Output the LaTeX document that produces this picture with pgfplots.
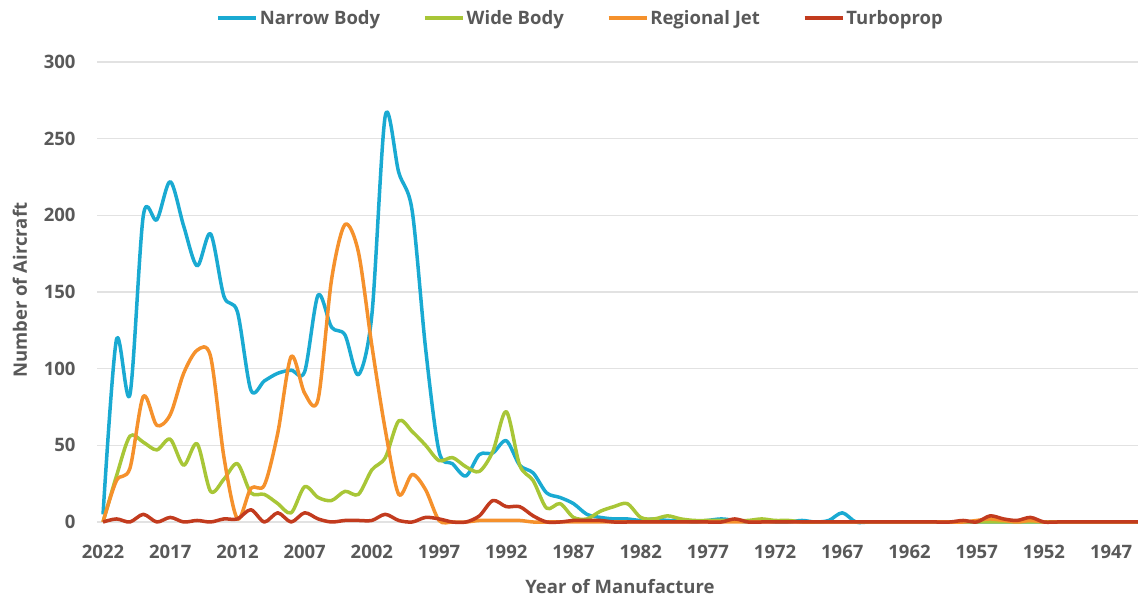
\documentclass[border=0pt]{standalone}
\usepackage{fontspec}
\setmainfont{Open Sans}
\usepackage{pgfplots}
\usepackage{pgfplotstable}
\pgfplotsset{compat=1.18}
\definecolor{nb}{HTML}{1AAAD2}
\definecolor{wb}{HTML}{A8C637}
\definecolor{rj}{HTML}{F5912C}
\definecolor{tp}{HTML}{C23B1E}
\definecolor{txt}{HTML}{595959}
\definecolor{grd}{HTML}{E2E2E2}
\newcommand{\chartfont}{\fontsize{18.5}{22}\selectfont\bfseries}
\pgfplotstableread{
year nb wb rj tp
2022 5 0 0 0
2021 119 30 27 2
2020 83 56 35 0
2019 200 52 82 5
2018 197 47 63 0
2017 222 54 70 3
2016 193 37 97 0
2015 167 51 112 1
2014 188 20 108 0
2013 147 28 42 2
2012 137 38 2 2
2011 86 19 22 8
2010 92 18 24 0
2009 97 12 58 6
2008 99 6 108 0
2007 98 23 84 6
2006 148 16 80 2
2005 127 14 158 0
2004 122 20 194 1
2003 96 18 176 1
2002 135 34 115 1
2001 265 42 60 5
2000 228 66 18 1
1999 203 59 31 0
1998 113 50 21 3
1997 46 40 1 2
1996 38 42 0 0
1995 30 36 0 0
1994 44 33 1 4
1993 45 46 1 14
1992 53 72 1 10
1991 37 37 1 10
1990 32 27 0 4
1989 19 9 0 0
1988 16 12 0 0
1987 12 3 0 1
1986 5 2 0 1
1985 3 7 0 1
1984 2 10 0 0
1983 2 12 0 0
1982 1 3 0 0
1981 2 2 0 0
1980 1 4 0 0
1979 1 2 0 0
1978 0 1 0 0
1977 1 1 0 0
1976 2 1 0 0
1975 1 1 0 2
1974 0 1 0 0
1973 1 2 0 0
1972 0 1 0 0
1971 0 1 0 0
1970 1 0 0 0
1969 0 0 0 0
1968 1 0 0 0
1967 6 0 0 0
1966 0 0 0 0
1965 0 0 0 0
1964 0 0 0 0
1963 0 0 0 0
1962 0 0 0 0
1961 0 0 0 0
1960 0 0 0 0
1959 0 0 0 0
1958 0 0 0 1
1957 0 0 1 0
1956 0 0 2 4
1955 0 0 1 2
1954 0 0 0 1
1953 0 0 1 3
1952 0 0 0 0
1951 0 0 0 0
1950 0 0 0 0
1949 0 0 0 0
1948 0 0 0 0
1947 0 0 0 0
1946 0 0 0 0
1945 0 0 0 0
}\data
\begin{document}
\begin{tikzpicture}
\useasboundingbox (0,0) rectangle (1138pt,599pt);
\begin{axis}[
  at={(97pt,77pt)}, anchor=south west,
  scale only axis, width=1041pt, height=460pt,
  x dir=reverse, xmin=1945, xmax=2022.45,
  ymin=0, ymax=300,
  xtick={2022,2017,...,1947},
  ytick={0,50,...,300},
  ymajorgrids, grid style={grd, line width=1.3pt},
  axis line style={draw=none},
  major tick length=0pt,
  clip=false,
  /pgf/number format/assume math mode=true,
  /pgf/number format/1000 sep={},
  tick label style={font=\chartfont, text=txt},
  yticklabel style={xshift=-18pt},
  xticklabel style={yshift=-20pt},
  label style={font=\chartfont, text=txt},
  xlabel={Year of Manufacture},
  ylabel={Number of Aircraft},
  xlabel style={at={(axis description cs:0.5024,-0.1413)}, anchor=center},
  ylabel style={at={(axis description cs:-0.074,0.504)}, anchor=center},
  legend style={at={(axis description cs:0.4645,1.0957)}, anchor=center, draw=none, fill=none,
    legend columns=4, font=\chartfont, text=txt,
    /tikz/every even column/.append style={column sep=41pt}},
  legend image code/.code={\draw[#1, line width=3.5pt] (0pt,0pt) -- (38pt,0pt);},
  every axis plot/.append style={line width=3.5pt, smooth, tension=0.5, line join=round},
]
\addplot[nb] table[x=year, y=nb] {\data};
\addlegendentry{Narrow Body}
\addplot[wb] table[x=year, y=wb] {\data};
\addlegendentry{Wide Body}
\addplot[rj] table[x=year, y=rj] {\data};
\addlegendentry{Regional Jet}
\addplot[tp] table[x=year, y=tp] {\data};
\addlegendentry{Turboprop}
\end{axis}
\end{tikzpicture}
\end{document}
